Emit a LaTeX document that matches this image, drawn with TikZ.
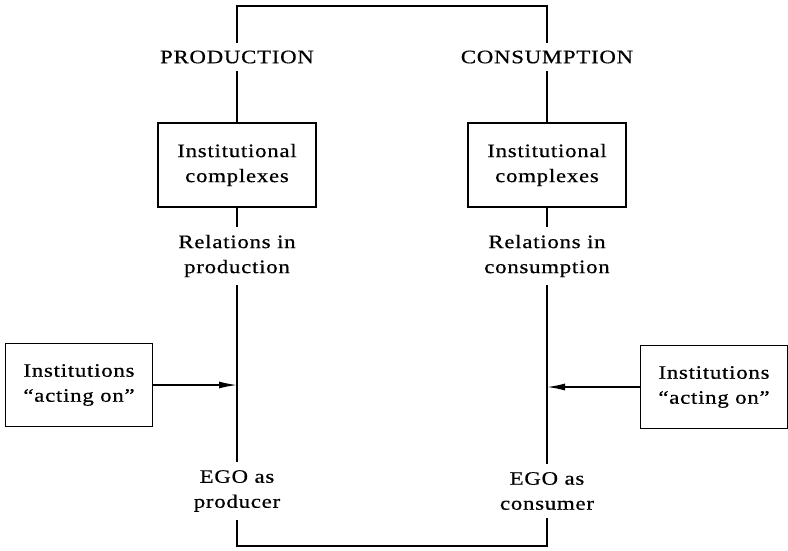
\documentclass[tikz,border=0pt]{standalone}
\usepackage{fontspec}
\setmainfont{Liberation Serif}[FakeStretch=1.2,LetterSpace=4,FakeBold=0.6]
\usetikzlibrary{arrows.meta}
\tikzset{
  lbl/.style={align=center, inner xsep=2pt, inner ysep=7pt},
  box/.style={draw, align=center, minimum width=158pt, minimum height=84pt},
  actbox/.style={box, minimum width=147pt, minimum height=83pt},
}
\begin{document}
\begin{tikzpicture}[x=1pt, y=-1pt, line width=1.5pt,
    every node/.style={font=\fontsize{19}{25}\selectfont}]
  \useasboundingbox (0,0) rectangle (788,550);
  % production side
  \node[lbl] (prod) at (237,57) {PRODUCTION};
  \node[box] (icp) at (237,165) {Institutional\\complexes};
  \node[lbl] (relp) at (237,256) {Relations in\\production};
  \node[lbl] (egop) at (237,491) {EGO as\\producer};
  \node[actbox] (actp) at (79,385) {Institutions\\``acting on''};
  % consumption side
  \node[lbl] (cons) at (547,57) {CONSUMPTION};
  \node[box] (icc) at (547,165) {Institutional\\complexes};
  \node[lbl] (relc) at (547,256) {Relations in\\consumption};
  \node[lbl] (egoc) at (547,491) {EGO as\\consumer};
  \node[actbox] (actc) at (714,387) {Institutions\\``acting on''};
  % corners and arrow ends
  \coordinate (tl) at (237,6);
  \coordinate (tr) at (547,6);
  \coordinate (bl) at (237,546);
  \coordinate (br) at (547,546);
  \coordinate (hitp) at (237,385);
  \coordinate (hitc) at (547,387);
  \draw (prod) -- (tl) -- (tr) -- (cons);
  \draw (egop) -- (bl) -- (br) -- (egoc);
  \draw (prod) -- (icp) -- (relp) -- (egop);
  \draw (cons) -- (icc) -- (relc) -- (egoc);
  \draw[-{Latex[length=18pt,width=7pt]}] (actp) -- (hitp);
  \draw[-{Latex[length=18pt,width=7pt]}] (actc) -- (hitc);
\end{tikzpicture}
\end{document}
